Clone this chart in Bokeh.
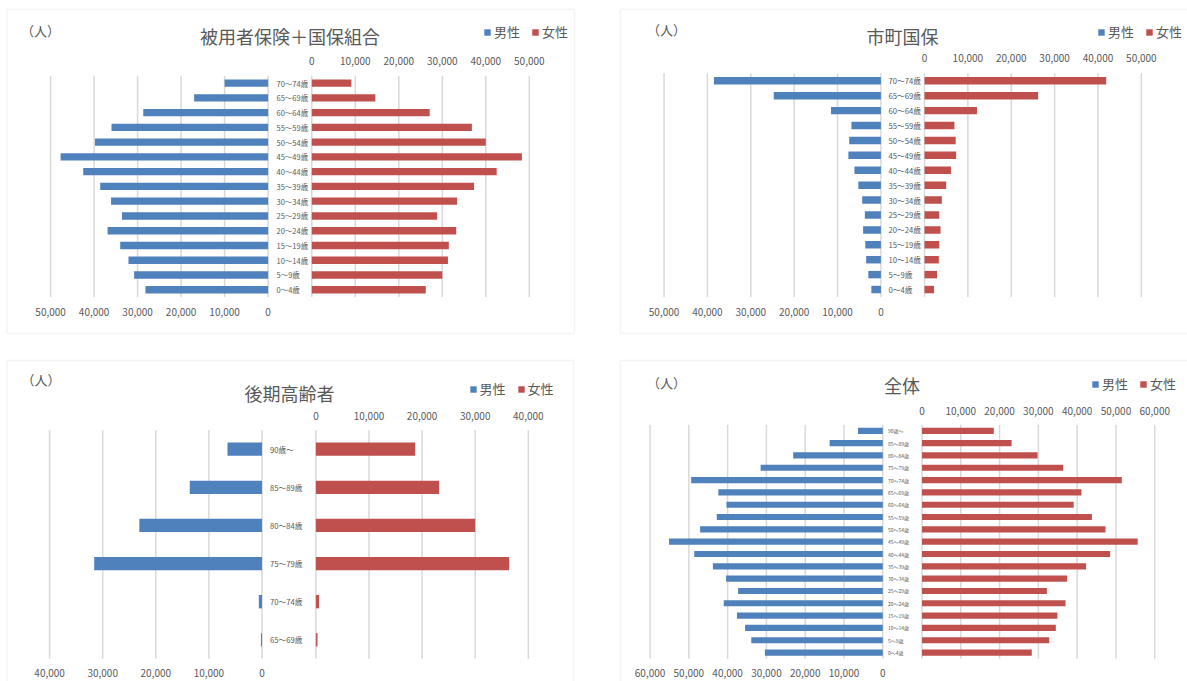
from bokeh.plotting import figure
from bokeh.models import (Range1d, LinearAxis, FixedTicker, NumeralTickFormatter,
                          Label, BoxAnnotation, Legend, LegendItem, ColumnDataSource)
from bokeh.layouts import column, row
from bokeh.core.properties import value
from bokeh.embed import file_html
from bokeh.resources import INLINE

# ---------------- data ----------------
ages15 = ["70～74歳", "65～69歳", "60～64歳", "55～59歳", "50～54歳", "45～49歳", "40～44歳",
          "35～39歳", "30～34歳", "25～29歳", "20～24歳", "15～19歳", "10～14歳", "5～9歳", "0～4歳"]
ages_kouki = ["90歳～", "85～89歳", "80～84歳", "75～79歳", "70～74歳", "65～69歳"]
ages_all = ["90歳～", "85～89歳", "80～84歳", "75～79歳"] + ages15

kenpo_m = [10000, 17000, 28700, 36000, 39800, 47700, 42500, 38600, 36100, 33600, 36900, 34000, 32100, 30800, 28200]
kenpo_f = [9100, 14600, 27100, 36800, 40000, 48300, 42500, 37300, 33400, 28800, 33200, 31500, 31300, 30000, 26200]

kokuho_m = [38500, 24700, 11500, 6800, 7300, 7500, 6100, 5200, 4300, 3700, 4100, 3600, 3400, 2900, 2200]
kokuho_f = [41900, 26200, 12100, 6900, 7200, 7300, 6100, 5000, 4000, 3400, 3700, 3400, 3300, 2900, 2200]

kouki_m = [6500, 13600, 23100, 31600, 600, 200]
kouki_f = [18700, 23200, 30000, 36400, 600, 300]

zentai_m = [6400, 13700, 23100, 31500, 49400, 42400, 40300, 42800, 47100, 55100, 48600, 43800,
            40400, 37300, 41000, 37600, 35500, 33900, 30400]
zentai_f = [18500, 23100, 29800, 36400, 51500, 41100, 39100, 43800, 47300, 55600, 48500, 42300,
            37400, 32200, 37000, 34900, 34500, 32800, 28300]

ticks50 = [0, 10000, 20000, 30000, 40000, 50000]
ticks40 = [0, 10000, 20000, 30000, 40000]
ticks60 = [0, 10000, 20000, 30000, 40000, 50000, 60000]

titles = ["被用者保険＋国保組合", "市町国保", "後期高齢者", "全体"]
legend_labels = ["男性", "女性"]
unit_label = "（人）"

# ---------------- style ----------------
FONT = "Noto Sans CJK JP"
TXT = "#595959"
GRID = "#d9d9d9"
BLUE = "#4F81BD"
RED = "#C0504D"
LEG_H = 18


def make_panel(title, cats, male, female, ticks, s):
    x0, y0 = s["origin"]
    W, H = s["size"]
    fz, mz, k = s["fz"], s["mz"], s["k"]
    ytc, c = s["row0"], s["pitch"]
    N = len(cats)

    def px2x(px):
        return (px - fz) / k

    def py2y(py):
        return N - 1 - (py - ytc) / c

    p = figure(width=W, height=H, title=None,
               x_range=Range1d(px2x(x0), px2x(x0 + W)),
               y_range=Range1d(py2y(y0 + H), py2y(y0)),
               toolbar_location=None, output_backend="svg",
               x_axis_location=None, y_axis_location=None,
               min_border_left=0, min_border_right=0, min_border_top=0, min_border_bottom=0,
               outline_line_color=None, background_fill_color="white",
               border_fill_color="white")
    p.extra_x_ranges = {"male": Range1d((mz - x0) / k, (mz - (x0 + W)) / k)}
    p.xgrid.visible = False
    p.ygrid.visible = False

    ypos = [N - 1 - i for i in range(N)]
    src = ColumnDataSource(dict(cat=cats, y=ypos, male=male, female=female))
    gsrc = ColumnDataSource(dict(t=ticks))

    # vertical grid lines spanning the category bands
    for rn in ("default", "male"):
        p.segment(x0="t", x1="t", y0=-0.5, y1=N - 0.5, source=gsrc, x_range_name=rn,
                  line_color=GRID, line_width=1.5)

    rm = p.hbar(y="y", left=0, right="male", height=s["bh"], source=src,
                x_range_name="male", fill_color=BLUE, line_color=None)
    rf = p.hbar(y="y", left=0, right="female", height=s["bh"], source=src,
                fill_color=RED, line_color=None)

    p.text(x=0, y="y", text="cat", source=src, x_range_name="male",
           x_offset=s["cat_off"], text_align="left", text_baseline="middle",
           text_font=value(FONT), text_font_size=f"{s['cat_fs']}px", text_color=TXT)

    common = dict(ticker=FixedTicker(ticks=ticks), formatter=NumeralTickFormatter(format="0,0"),
                  axis_line_color=None, major_tick_line_color=None, minor_tick_line_color=None,
                  major_tick_out=0, major_tick_in=0, minor_tick_out=0, minor_tick_in=0,
                  major_label_text_font=FONT, major_label_text_font_size="10px",
                  major_label_text_color=TXT)
    p.add_layout(LinearAxis(fixed_location=N - 0.5, major_label_standoff=s["top_so"], **common),
                 "above")
    p.add_layout(LinearAxis(x_range_name="male", fixed_location=-0.5,
                            major_label_standoff=s["bot_so"], **common), "below")

    # panel border
    l, t, r, b = s["box"]
    p.add_layout(BoxAnnotation(left=px2x(l), right=px2x(r), top=py2y(t), bottom=py2y(b),
                               fill_color=None, fill_alpha=0,
                               line_color=GRID, line_width=1.5))

    tx, ty = s["title"]
    p.add_layout(Label(x=px2x(tx), y=py2y(ty), text=title,
                       text_align="center", text_baseline="middle", text_font=FONT,
                       text_font_size="18px", text_color=TXT))
    ux, uy = s["unit"]
    p.add_layout(Label(x=px2x(ux), y=py2y(uy), text=unit_label,
                       text_align="center", text_baseline="middle", text_font=FONT,
                       text_font_size="13px", text_color=TXT))

    lx, ly = s["legend"]
    legend = Legend(items=[LegendItem(label=legend_labels[0], renderers=[rm]),
                           LegendItem(label=legend_labels[1], renderers=[rf])],
                    orientation="horizontal",
                    location=(lx - x0, (y0 + H) - (ly + LEG_H / 2)),
                    glyph_width=8, glyph_height=8, label_standoff=3, spacing=11,
                    padding=0, margin=0, label_height=14, label_width=10,
                    border_line_color=None, background_fill_alpha=0,
                    label_text_font=FONT, label_text_font_size="13px",
                    label_text_color=TXT)
    p.add_layout(legend)
    return p


# all positions below are page pixels
specs = [
    dict(origin=(0, 0), size=(597, 346), fz=311.3, mz=267.6, k=217.5 / 50000,
         row0=82.6, pitch=14.76, bh=0.5, cat_off=8.4, cat_fs=7.5, top_so=11, bot_so=11,
         box=(6.5, 8.7, 574, 333), title=(289.4, 35.5), unit=(40, 30), legend=(483, 32)),
    dict(origin=(597, 0), size=(590, 346), fz=924.0, mz=880.4, k=216.85 / 50000,
         row0=80.3, pitch=14.91, bh=0.5, cat_off=7.6, cat_fs=7.7, top_so=11, bot_so=11,
         box=(620, 8.7, 1200, 333), title=(902, 35.3), unit=(666, 29), legend=(1097, 32.3)),
    dict(origin=(0, 346), size=(597, 335), fz=315.4, mz=261.5, k=212.4 / 40000,
         row0=448.7, pitch=38.12, bh=0.35, cat_off=8, cat_fs=7.7, top_so=10, bot_so=10,
         box=(6.5, 360, 573, 700), title=(289, 392.4), unit=(40.6, 379), legend=(468.6, 389.3)),
    dict(origin=(597, 346), size=(590, 335), fz=921.5, mz=882.3, k=232.75 / 60000,
         row0=430.3, pitch=12.32, bh=0.5, cat_off=5.2, cat_fs=5, top_so=10, bot_so=10,
         box=(620, 360, 1200, 700), title=(901.5, 384), unit=(666, 381.7), legend=(1091, 384)),
]

p1 = make_panel(titles[0], ages15, kenpo_m, kenpo_f, ticks50, specs[0])
p2 = make_panel(titles[1], ages15, kokuho_m, kokuho_f, ticks50, specs[1])
p3 = make_panel(titles[2], ages_kouki, kouki_m, kouki_f, ticks40, specs[2])
p4 = make_panel(titles[3], ages_all, zentai_m, zentai_f, ticks60, specs[3])

layout = column(row(p1, p2, spacing=0), row(p3, p4, spacing=0), spacing=0)

open("out.html", "w").write(file_html(layout, INLINE))
